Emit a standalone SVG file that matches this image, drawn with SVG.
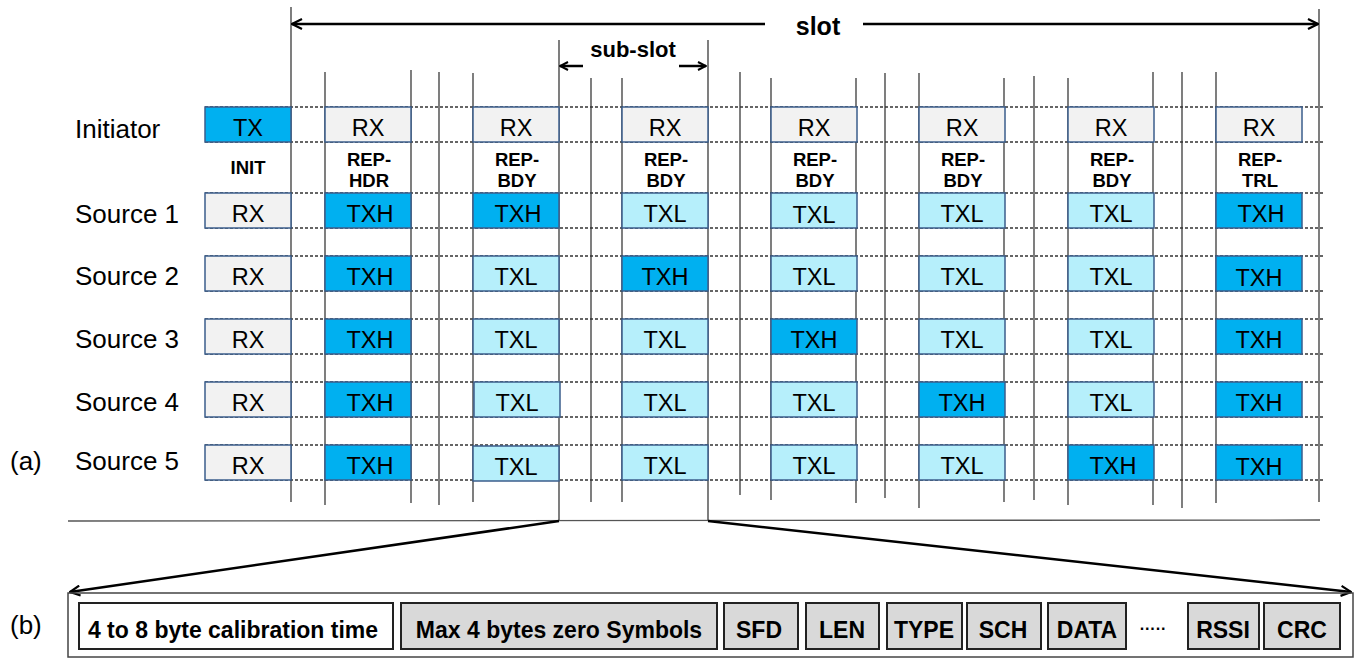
<svg xmlns="http://www.w3.org/2000/svg" width="1358" height="658" viewBox="0 0 1358 658">
<style>
text{font-family:"Liberation Sans",Arial,sans-serif;fill:#000}
.lbl{font-size:26px}
.bx{stroke:#3b5e8c;stroke-width:1.5}
.rx{fill:#f2f2f2}
.txh{fill:#00b0f0}
.txl{fill:#b6effb}
.bt{font-size:23.5px;text-anchor:middle}
.sm{font-size:18.5px;font-weight:bold;text-anchor:middle}
.vl{stroke:#3a3a3a;stroke-width:1.3}
.dl{stroke:#333;stroke-width:1.3;stroke-dasharray:3 2}
.fb{stroke:#222;stroke-width:2}
.ft{font-size:23px;font-weight:bold;text-anchor:middle}
.ar{stroke:#000;stroke-width:2.5;fill:none}
</style>
<defs>
<marker id="ah" viewBox="0 0 12 12" refX="11" refY="6" markerWidth="12" markerHeight="12" orient="auto" markerUnits="userSpaceOnUse"><path d="M1,1 L11,6 L1,11" fill="none" stroke="#000" stroke-width="2.2"/></marker>
<marker id="ahs" viewBox="0 0 10 10" refX="9" refY="5" markerWidth="10" markerHeight="10" orient="auto" markerUnits="userSpaceOnUse"><path d="M1,1 L9,5 L1,9" fill="none" stroke="#000" stroke-width="2"/></marker>
</defs>

<g id="grid">
<line class="vl" x1="291" y1="7" x2="291" y2="502"/>
<line class="vl" x1="1319" y1="9" x2="1319" y2="502"/>
<line class="vl" x1="559" y1="40" x2="559" y2="521"/>
<line class="vl" x1="708" y1="40" x2="708" y2="521"/>
<line class="vl" x1="325" y1="72" x2="325" y2="505"/>
<line class="vl" x1="411" y1="70" x2="411" y2="503"/>
<line class="vl" x1="439" y1="72" x2="439" y2="505"/>
<line class="vl" x1="473" y1="73" x2="473" y2="502"/>
<line class="vl" x1="591" y1="78" x2="591" y2="502"/>
<line class="vl" x1="622" y1="78" x2="622" y2="502"/>
<line class="vl" x1="740" y1="72" x2="740" y2="495"/>
<line class="vl" x1="771" y1="78" x2="771" y2="500"/>
<line class="vl" x1="856" y1="78" x2="856" y2="503"/>
<line class="vl" x1="885" y1="73" x2="885" y2="498"/>
<line class="vl" x1="919" y1="73" x2="919" y2="508"/>
<line class="vl" x1="1004" y1="78" x2="1004" y2="502"/>
<line class="vl" x1="1034" y1="76" x2="1034" y2="500"/>
<line class="vl" x1="1068" y1="78" x2="1068" y2="505"/>
<line class="vl" x1="1153" y1="72" x2="1153" y2="505"/>
<line class="vl" x1="1182" y1="72" x2="1182" y2="508"/>
<line class="vl" x1="1216" y1="72" x2="1216" y2="503"/>
<line class="dl" x1="205" y1="107" x2="1325" y2="107"/>
<line class="dl" x1="205" y1="142" x2="1325" y2="142"/>
<line class="dl" x1="205" y1="193" x2="1325" y2="193"/>
<line class="dl" x1="205" y1="228" x2="1325" y2="228"/>
<line class="dl" x1="205" y1="256" x2="1325" y2="256"/>
<line class="dl" x1="205" y1="291" x2="1325" y2="291"/>
<line class="dl" x1="205" y1="319" x2="1325" y2="319"/>
<line class="dl" x1="205" y1="354" x2="1325" y2="354"/>
<line class="dl" x1="205" y1="382" x2="1325" y2="382"/>
<line class="dl" x1="205" y1="417" x2="1325" y2="417"/>
<line class="dl" x1="205" y1="445" x2="1325" y2="445"/>
<line class="dl" x1="205" y1="480" x2="1325" y2="480"/>
<line x1="68" y1="521" x2="1320" y2="520" stroke="#555" stroke-width="1.3"/>
</g>

<g id="labels">
<text class="lbl" x="75" y="138">Initiator</text>
<text class="lbl" x="75" y="223">Source 1</text>
<text class="lbl" x="75" y="285">Source 2</text>
<text class="lbl" x="75" y="348">Source 3</text>
<text class="lbl" x="75" y="411">Source 4</text>
<text class="lbl" x="75" y="470">Source 5</text>
<text class="lbl" x="10" y="470">(a)</text>
<text class="lbl" x="10" y="634">(b)</text>
<text class="sm" x="248" y="174">INIT</text>
<text class="sm" x="369" y="166">REP-</text><text class="sm" x="369" y="187">HDR</text>
<text class="sm" x="517" y="166">REP-</text><text class="sm" x="517" y="187">BDY</text>
<text class="sm" x="666" y="166">REP-</text><text class="sm" x="666" y="187">BDY</text>
<text class="sm" x="815" y="166">REP-</text><text class="sm" x="815" y="187">BDY</text>
<text class="sm" x="963" y="166">REP-</text><text class="sm" x="963" y="187">BDY</text>
<text class="sm" x="1112" y="166">REP-</text><text class="sm" x="1112" y="187">BDY</text>
<text class="sm" x="1260" y="166">REP-</text><text class="sm" x="1260" y="187">TRL</text>
</g>

<g id="initiator">
<g id="i0"><rect class="bx txh" x="205" y="107" width="86" height="35"/><text class="bt" x="248" y="136">TX</text></g>
<g id="i1"><rect class="bx rx" x="325" y="107" width="86" height="35"/><text class="bt" x="368" y="136">RX</text></g>
<g id="i2"><rect class="bx rx" x="473" y="107" width="86" height="35"/><text class="bt" x="516" y="136">RX</text></g>
<g id="i3"><rect class="bx rx" x="622" y="107" width="86" height="35"/><text class="bt" x="665" y="136">RX</text></g>
<g id="i4"><rect class="bx rx" x="771" y="107" width="86" height="35"/><text class="bt" x="814" y="136">RX</text></g>
<g id="i5"><rect class="bx rx" x="919" y="107" width="86" height="35"/><text class="bt" x="962" y="136">RX</text></g>
<g id="i6"><rect class="bx rx" x="1068" y="107" width="86" height="35"/><text class="bt" x="1111" y="136">RX</text></g>
<g id="i7"><rect class="bx rx" x="1216" y="107" width="86" height="35"/><text class="bt" x="1259" y="136">RX</text></g>
</g>

<g id="source1">
<g id="s1c0"><rect class="bx rx" x="205" y="193" width="86" height="35"/><text class="bt" x="248" y="222">RX</text></g>
<g id="s1c1"><rect class="bx txh" x="325" y="193" width="86" height="35"/><text class="bt" x="370" y="222">TXH</text></g>
<g id="s1c2"><rect class="bx txh" x="473" y="193" width="86" height="35"/><text class="bt" x="518" y="222">TXH</text></g>
<g id="s1c3"><rect class="bx txl" x="622" y="193" width="86" height="35"/><text class="bt" x="665" y="222">TXL</text></g>
<g id="s1c4"><rect class="bx txl" x="771" y="193" width="86" height="35"/><text class="bt" x="814" y="223">TXL</text></g>
<g id="s1c5"><rect class="bx txl" x="919" y="193" width="86" height="35"/><text class="bt" x="962" y="222">TXL</text></g>
<g id="s1c6"><rect class="bx txl" x="1068" y="193" width="86" height="35"/><text class="bt" x="1111" y="222">TXL</text></g>
<g id="s1c7"><rect class="bx txh" x="1216" y="193" width="86" height="35"/><text class="bt" x="1261" y="222">TXH</text></g>
</g>

<g id="source2">
<g id="s2c0"><rect class="bx rx" x="205" y="256" width="86" height="35"/><text class="bt" x="248" y="285">RX</text></g>
<g id="s2c1"><rect class="bx txh" x="325" y="256" width="86" height="35"/><text class="bt" x="370" y="285">TXH</text></g>
<g id="s2c2"><rect class="bx txl" x="473" y="256" width="86" height="35"/><text class="bt" x="516" y="285">TXL</text></g>
<g id="s2c3"><rect class="bx txh" x="622" y="256" width="86" height="35"/><text class="bt" x="665" y="285">TXH</text></g>
<g id="s2c4"><rect class="bx txl" x="771" y="256" width="86" height="35"/><text class="bt" x="814" y="285">TXL</text></g>
<g id="s2c5"><rect class="bx txl" x="919" y="256" width="86" height="35"/><text class="bt" x="962" y="285">TXL</text></g>
<g id="s2c6"><rect class="bx txl" x="1068" y="256" width="86" height="35"/><text class="bt" x="1111" y="285">TXL</text></g>
<g id="s2c7"><rect class="bx txh" x="1216" y="256" width="86" height="35"/><text class="bt" x="1259" y="286">TXH</text></g>
</g>

<g id="source3">
<g id="s3c0"><rect class="bx rx" x="205" y="319" width="86" height="35"/><text class="bt" x="248" y="348">RX</text></g>
<g id="s3c1"><rect class="bx txh" x="325" y="319" width="86" height="35"/><text class="bt" x="370" y="348">TXH</text></g>
<g id="s3c2"><rect class="bx txl" x="473" y="319" width="86" height="35"/><text class="bt" x="516" y="348">TXL</text></g>
<g id="s3c3"><rect class="bx txl" x="622" y="319" width="86" height="35"/><text class="bt" x="665" y="348">TXL</text></g>
<g id="s3c4"><rect class="bx txh" x="771" y="319" width="86" height="35"/><text class="bt" x="814" y="348">TXH</text></g>
<g id="s3c5"><rect class="bx txl" x="919" y="319" width="86" height="35"/><text class="bt" x="962" y="348">TXL</text></g>
<g id="s3c6"><rect class="bx txl" x="1068" y="319" width="86" height="35"/><text class="bt" x="1111" y="348">TXL</text></g>
<g id="s3c7"><rect class="bx txh" x="1216" y="319" width="86" height="35"/><text class="bt" x="1259" y="348">TXH</text></g>
</g>

<g id="source4">
<g id="s4c0"><rect class="bx rx" x="205" y="382" width="86" height="35"/><text class="bt" x="248" y="411">RX</text></g>
<g id="s4c1"><rect class="bx txh" x="325" y="382" width="86" height="35"/><text class="bt" x="370" y="411">TXH</text></g>
<g id="s4c2"><rect class="bx txl" x="474" y="382" width="86" height="35"/><text class="bt" x="517" y="411">TXL</text></g>
<g id="s4c3"><rect class="bx txl" x="622" y="382" width="86" height="35"/><text class="bt" x="665" y="411">TXL</text></g>
<g id="s4c4"><rect class="bx txl" x="771" y="382" width="86" height="35"/><text class="bt" x="814" y="411">TXL</text></g>
<g id="s4c5"><rect class="bx txh" x="919" y="382" width="86" height="35"/><text class="bt" x="962" y="411">TXH</text></g>
<g id="s4c6"><rect class="bx txl" x="1068" y="382" width="86" height="35"/><text class="bt" x="1111" y="411">TXL</text></g>
<g id="s4c7"><rect class="bx txh" x="1216" y="382" width="86" height="35"/><text class="bt" x="1259" y="411">TXH</text></g>
</g>

<g id="source5">
<g id="s5c0"><rect class="bx rx" x="205" y="445" width="86" height="35"/><text class="bt" x="248" y="474">RX</text></g>
<g id="s5c1"><rect class="bx txh" x="325" y="445" width="86" height="35"/><text class="bt" x="370" y="474">TXH</text></g>
<g id="s5c2"><rect class="bx txl" x="473" y="446" width="86" height="35"/><text class="bt" x="516" y="475">TXL</text></g>
<g id="s5c3"><rect class="bx txl" x="622" y="445" width="86" height="35"/><text class="bt" x="665" y="474">TXL</text></g>
<g id="s5c4"><rect class="bx txl" x="771" y="445" width="86" height="35"/><text class="bt" x="814" y="474">TXL</text></g>
<g id="s5c5"><rect class="bx txl" x="919" y="445" width="86" height="35"/><text class="bt" x="962" y="474">TXL</text></g>
<g id="s5c6"><rect class="bx txh" x="1068" y="445" width="86" height="35"/><text class="bt" x="1113" y="474">TXH</text></g>
<g id="s5c7"><rect class="bx txh" x="1216" y="445" width="86" height="35"/><text class="bt" x="1259" y="475">TXH</text></g>
</g>

<g id="dimensions">
<text x="818" y="35" style="font-size:25px;font-weight:bold;text-anchor:middle">slot</text>
<line class="ar" x1="765" y1="24" x2="292" y2="24" marker-end="url(#ah)"/>
<line class="ar" x1="863" y1="24" x2="1318" y2="24" marker-end="url(#ah)"/>
<text x="633" y="57" style="font-size:22px;font-weight:bold;text-anchor:middle">sub-slot</text>
<line class="ar" x1="583" y1="66" x2="560" y2="66" marker-end="url(#ahs)"/>
<line class="ar" x1="679" y1="66" x2="706" y2="66" marker-end="url(#ahs)"/>
</g>

<g id="connectors">
<line class="ar" x1="559" y1="521" x2="70" y2="592" marker-end="url(#ah)"/>
<line class="ar" x1="708" y1="521" x2="1351" y2="592" marker-end="url(#ah)"/>
</g>

<g id="frame">
<rect id="frame-outer" x="68" y="593" width="1285" height="64" fill="none" stroke="#444" stroke-width="1.5"/>
<g id="f-calib"><rect class="fb" x="79" y="603" width="314" height="46" fill="#fff"/><text class="ft" x="233" y="638">4 to 8 byte calibration time</text></g>
<g id="f-zero"><rect class="fb" x="401" y="603" width="316" height="46" fill="#d9d9d9"/><text class="ft" x="559" y="638">Max 4 bytes zero Symbols</text></g>
<g id="f-sfd"><rect class="fb" x="724" y="603" width="74" height="46" fill="#d9d9d9"/><text class="ft" x="759" y="638">SFD</text></g>
<g id="f-len"><rect class="fb" x="806" y="603" width="73" height="46" fill="#d9d9d9"/><text class="ft" x="842" y="638">LEN</text></g>
<g id="f-type"><rect class="fb" x="887" y="603" width="75" height="46" fill="#d9d9d9"/><text class="ft" x="924" y="638">TYPE</text></g>
<g id="f-sch"><rect class="fb" x="967" y="603" width="74" height="46" fill="#d9d9d9"/><text class="ft" x="1003" y="638">SCH</text></g>
<g id="f-data"><rect class="fb" x="1048" y="603" width="78" height="46" fill="#d9d9d9"/><text class="ft" x="1087" y="638">DATA</text></g>
<text x="1153" y="634" style="font-size:16px;font-weight:bold;text-anchor:middle">·····</text>
<g id="f-rssi"><rect class="fb" x="1188" y="603" width="71" height="46" fill="#d9d9d9"/><text class="ft" x="1223" y="638">RSSI</text></g>
<g id="f-crc"><rect class="fb" x="1264" y="603" width="76" height="46" fill="#d9d9d9"/><text class="ft" x="1302" y="638">CRC</text></g>
</g>
</svg>
